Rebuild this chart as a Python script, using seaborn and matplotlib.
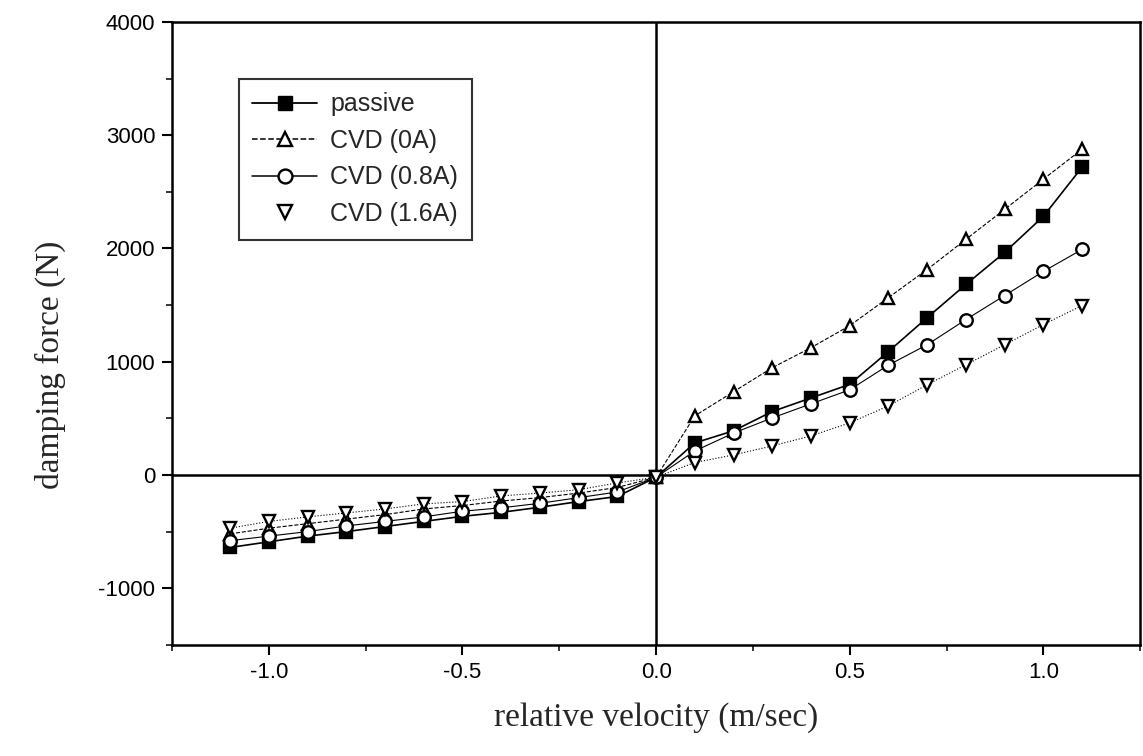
import numpy as np
import pandas as pd
import matplotlib
matplotlib.use("Agg")
import matplotlib.pyplot as plt
import seaborn as sns
from matplotlib.lines import Line2D
from matplotlib.ticker import MultipleLocator, FixedLocator

velocity = [-1.1, -1.0, -0.9, -0.8, -0.7, -0.6, -0.5, -0.4, -0.3, -0.2, -0.1, 0.0,
            0.1, 0.2, 0.3, 0.4, 0.5, 0.6, 0.7, 0.8, 0.9, 1.0, 1.1]

passive = [-640, -590, -540, -500, -455, -410, -365, -330, -285, -235, -190, -20,
           283, 390, 560, 680, 800, 1090, 1389, 1682, 1965, 2283, 2717]
cvd_0a = [-520, -470, -430, -390, -350, -300, -270, -230, -200, -160, -110, -20,
          522, 735, 947, 1124, 1318, 1566, 1814, 2080, 2345, 2611, 2876]
cvd_08a = [-580, -540, -500, -450, -410, -370, -320, -290, -250, -200, -150, -20,
           212, 370, 504, 628, 752, 970, 1150, 1372, 1584, 1797, 1991]
cvd_16a = [-470, -410, -370, -335, -300, -255, -235, -185, -160, -130, -70, -20,
           110, 177, 256, 345, 460, 610, 797, 973, 1150, 1328, 1496]

series_names = ["passive", "CVD (0A)", "CVD (0.8A)", "CVD (1.6A)"]
x_ticks = [-1.0, -0.5, 0.0, 0.5, 1.0]
x_tick_labels = ["-1.0", "-0.5", "0.0", "0.5", "1.0"]
y_ticks = [-1000, 0, 1000, 2000, 3000, 4000]

sns.set_theme(style="white")
plt.rcParams["font.family"] = ["Liberation Sans", "DejaVu Sans"]
plt.rcParams["axes.unicode_minus"] = False

fig = plt.figure(figsize=(11.43, 7.56), dpi=100)
ax = fig.add_axes([0.1505, 0.147, 0.847, 0.824])

styles = [
    dict(marker="s", linestyle="-", markerfacecolor="black", lw=1.2),
    dict(marker="^", linestyle="--", markerfacecolor="white", lw=0.8),
    dict(marker="o", linestyle="-", markerfacecolor="white", lw=0.8),
    dict(marker="v", linestyle=":", markerfacecolor="white", lw=0.8),
]
data_list = [passive, cvd_0a, cvd_08a, cvd_16a]

for name, vals, st in zip(series_names, data_list, styles):
    df = pd.DataFrame({"v": velocity, "f": vals})
    sns.lineplot(data=df, x="v", y="f", ax=ax, color="black",
                 marker=st["marker"], linestyle=st["linestyle"], lw=st["lw"],
                 markersize=9, markeredgewidth=1.7, markeredgecolor="black",
                 markerfacecolor=st["markerfacecolor"], label=name, legend=False)

ax.axhline(0, color="black", lw=1.8, zorder=1)
ax.axvline(0, color="black", lw=1.8, zorder=1)

ax.set_xlim(-1.25, 1.25)
ax.set_ylim(-1500, 4000)
ax.xaxis.set_major_locator(FixedLocator(x_ticks))
ax.set_xticklabels(x_tick_labels)
ax.xaxis.set_minor_locator(MultipleLocator(0.25))
ax.yaxis.set_major_locator(FixedLocator(y_ticks))
ax.yaxis.set_minor_locator(MultipleLocator(500))
ax.tick_params(axis="both", which="major", direction="out", length=7, width=1.5,
               labelsize=16, colors="black", bottom=True, left=True, pad=5)
ax.tick_params(axis="both", which="minor", direction="out", length=4, width=1.3,
               bottom=True, left=True)
for s in ax.spines.values():
    s.set_color("black")
    s.set_linewidth(1.8)

ax.set_xlabel("relative velocity (m/sec)", fontsize=24, family="Liberation Serif", labelpad=14)
ax.set_ylabel("damping force (N)", fontsize=24, family="Liberation Serif")
ax.yaxis.set_label_coords(-0.11, 0.45)

handles = [
    Line2D([], [], color="black", marker="s", linestyle="-", markersize=10, markerfacecolor="black", lw=1.3),
    Line2D([], [], color="black", marker="^", linestyle="--", markersize=10, markerfacecolor="white", lw=1.1, mew=1.7),
    Line2D([], [], color="black", marker="o", linestyle="-", markersize=10, markerfacecolor="white", lw=1.1, mew=1.7),
    Line2D([], [], color="black", marker="v", linestyle="none", markersize=10, markerfacecolor="white", lw=1.1, mew=1.7),
]
leg = ax.legend(handles, series_names, loc="upper left", bbox_to_anchor=(0.056, 0.929),
                fontsize=18, frameon=True, fancybox=False, edgecolor="black",
                borderpad=0.55, labelspacing=0.5, handlelength=2.6, handletextpad=0.5)
leg.get_frame().set_linewidth(1.5)

fig.savefig("out.png", dpi=100)
